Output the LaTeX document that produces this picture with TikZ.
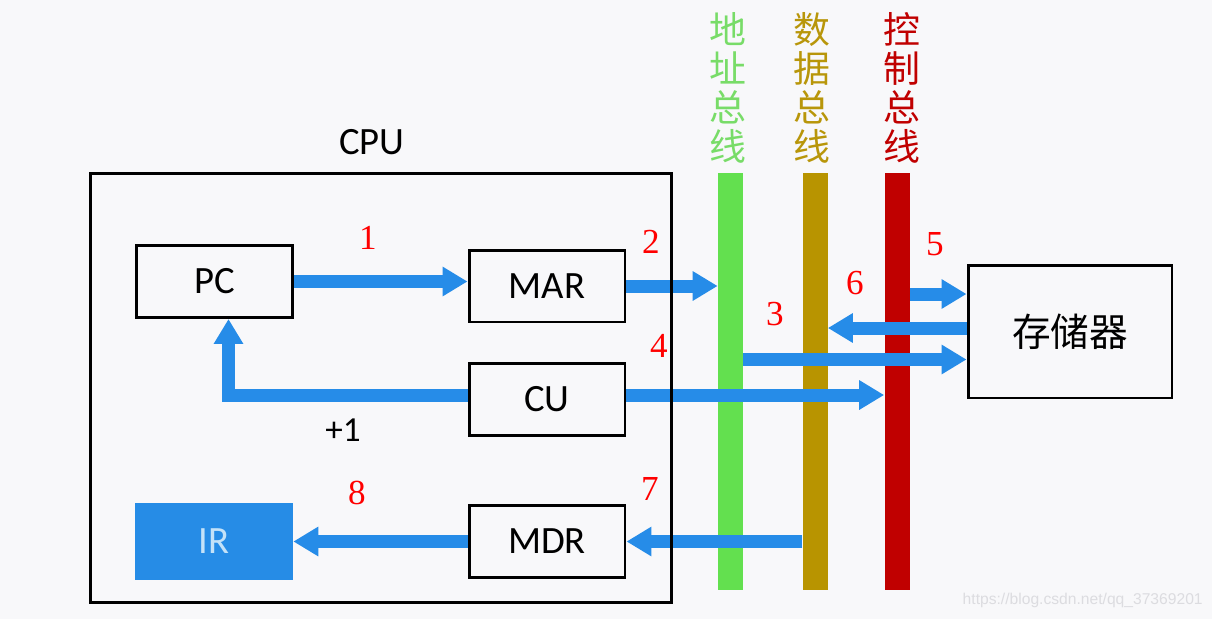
\documentclass[tikz,border=0pt]{standalone}
\usepackage{fontspec}
\setmainfont{Carlito}
\newfontfamily\cjk{Noto Sans CJK SC}
\newfontfamily\numfont{Liberation Serif}
\newfontfamily\wmfont{Liberation Sans}
\usetikzlibrary{arrows.meta}
\definecolor{bgc}{HTML}{F8F8FA}
\definecolor{flowblue}{HTML}{268CE8}
\definecolor{irblue}{HTML}{268CE6}
\definecolor{irtext}{HTML}{C4E2F8}
\definecolor{abusc}{HTML}{63E04F}
\definecolor{abust}{HTML}{78DC68}
\definecolor{dbusc}{HTML}{B89400}
\definecolor{dbust}{HTML}{B8960A}
\definecolor{cbusc}{HTML}{C00000}
\definecolor{wmc}{HTML}{DCDCE0}
\tikzset{
  box/.style={draw=black, line width=1.7pt, minimum width=3.12cm, minimum height=1.44cm,
    inner sep=0pt, font=\fontsize{22}{26}\selectfont},
  bus/.style={minimum width=0.5cm, minimum height=8.34cm, inner sep=0pt},
  buslabel/.style={align=center, inner sep=0pt, font=\cjk\fontsize{21}{22.2}\selectfont},
  flow/.style={draw=flowblue, line width=0.26cm, -{Triangle[length=0.5cm,width=0.56cm]}},
  num/.style={text=red, inner sep=0pt, font=\numfont\fontsize{20}{24}\selectfont},
  plain/.style={inner sep=0pt, font=\fontsize{22}{26}\selectfont}
}
\begin{document}
\begin{tikzpicture}[x=0.02cm,y=-0.02cm]
\fill[bgc] (0,0) rectangle (1212,619);
\useasboundingbox (0,0) rectangle (1212,619);

% buses
\node[bus, fill=abusc] (abus) at (730.5,381.5) {};
\node[bus, fill=dbusc] (dbus) at (815,381.5) {};
\node[bus, fill=cbusc] (cbus) at (897,381.5) {};
\node[buslabel, text=abust] (alab) at (728,88) {地\\址\\总\\线};
\node[buslabel, text=dbust] (dlab) at (812,88) {数\\据\\总\\线};
\node[buslabel, text=cbusc] (clab) at (902,88) {控\\制\\总\\线};

% CPU boxes
\node[box] (pc) at (214.5,281.5) {PC};
\node[box] (mar) at (547,286) {MAR};
\node[box] (cu) at (547,399.5) {CU};
\node[box] (mdr) at (547,541.5) {MDR};
\node[fill=irblue, minimum width=3.16cm, minimum height=1.54cm, inner sep=0pt,
  text=irtext, font=\fontsize{22}{26}\selectfont] (ir) at (214,541.5) {IR};
\node[box, minimum width=4.08cm, minimum height=2.66cm, font=\cjk\fontsize{22}{26}\selectfont]
  (mem) at (1070,331.5) {存储器};

% flows
\draw[flow] (pc.east) -- (pc.east -| mar.west);
\draw[flow] (mar.east) -- (mar.east -| abus.west);
\draw[flow] ([yshift=0.09cm]cu.east) -- ([yshift=0.09cm]cu.east -| cbus.west);
\draw[flow, line join=miter] ([yshift=0.09cm]cu.west) -| ([xshift=0.28cm]pc.south);
\coordinate (m3) at ([yshift=-0.56cm]mem.west);
\coordinate (m6) at ([yshift=0.07cm]mem.west);
\coordinate (m5) at ([yshift=0.75cm]mem.west);
\draw[flow] (m3 -| abus.east) -- (m3);
\draw[flow] (m6) -- (m6 -| dbus.east);
\draw[flow] (m5 -| cbus.east) -- (m5);
\draw[flow] (mdr.east -| dbus.west) -- (mdr.east);
\draw[flow] (mdr.west) -- (ir.east);

% CPU frame
\node[draw=black, line width=1.7pt, minimum width=11.64cm, minimum height=8.6cm, inner sep=0pt]
  (cpu) at (381,388) {};
\node[plain] (cpulab) at (372,142) {CPU};
\node[plain, font=\fontsize{20}{24}\selectfont] (plus) at (343,430) {+1};

% step numbers
\node[num] (n1) at (368,238) {1};
\node[num] (n2) at (651,242) {2};
\node[num] (n3) at (775,314) {3};
\node[num] (n4) at (659,346) {4};
\node[num] (n5) at (935,244) {5};
\node[num] (n6) at (855,283) {6};
\node[num] (n7) at (650,489) {7};
\node[num] (n8) at (357,493) {8};

% watermark
\node[text=wmc, inner sep=0pt, anchor=east, font=\wmfont\fontsize{8.9}{11}\selectfont] (wm) at (1203,600) {https://blog.csdn.net/qq\_37369201};
\end{tikzpicture}
\end{document}
